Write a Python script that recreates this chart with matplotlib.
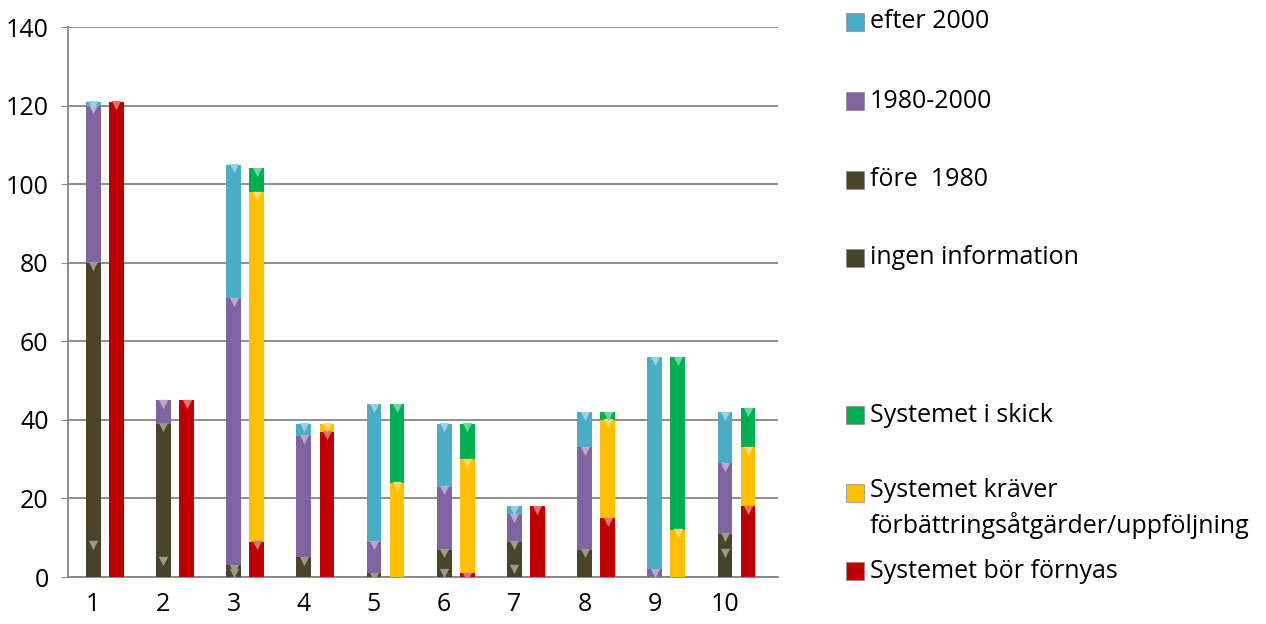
import matplotlib.pyplot as plt
import matplotlib.colors as mcolors
from matplotlib.patches import Rectangle
import numpy as np

plt.rcParams['font.family'] = ['Open Sans', 'DejaVu Sans']

categories = ['1', '2', '3', '4', '5', '6', '7', '8', '9', '10']

# left bar: age of the system
ingen_info = [9, 5, 2, 0, 0, 2, 3, 0, 0, 7]
fore_1980 = [71, 34, 1, 5, 1, 5, 6, 7, 0, 4]
y1980_2000 = [40, 6, 68, 31, 8, 16, 7, 26, 2, 18]
efter_2000 = [1, 0, 34, 3, 35, 16, 2, 9, 54, 13]

# right bar: condition of the system
bor_fornyas = [121, 45, 9, 37, 0, 1, 18, 15, 0, 18]
kraver = [0, 0, 89, 2, 24, 29, 0, 25, 12, 15]
i_skick = [0, 0, 6, 0, 20, 9, 0, 2, 44, 10]

left_series = [
    ('ingen information', ingen_info, '#46432a'),
    ('före  1980', fore_1980, '#4a4529'),
    ('1980-2000', y1980_2000, '#8064a2'),
    ('efter 2000', efter_2000, '#4bacc6'),
]
right_series = [
    ('Systemet bör förnyas', bor_fornyas, '#c00000'),
    ('Systemet kräver\nförbättringsåtgärder/uppföljning', kraver, '#ffc000'),
    ('Systemet i skick', i_skick, '#00b050'),
]

fig = plt.figure(figsize=(12.66, 6.24), dpi=100)
ax = fig.add_axes([0.0537, 0.0753, 0.561, 0.8814])

x = np.arange(1, len(categories) + 1)
width = 0.21
offset = 0.33


def lighten(c, amt=0.45):
    r, g, b = mcolors.to_rgb(c)
    return (r + (1 - r) * amt, g + (1 - g) * amt, b + (1 - b) * amt)


def stack(xpos, series):
    bottom = np.zeros(len(xpos))
    for name, vals, color in series:
        vals = np.array(vals, dtype=float)
        ax.bar(xpos, vals, width, bottom=bottom, color=color, linewidth=0, zorder=3)
        top = bottom + vals
        m = vals > 0
        ax.scatter(xpos[m], top[m] - 0.9, marker='v', s=45,
                   color=lighten(color), linewidths=0, zorder=4)
        bottom = top


stack(x, left_series)
stack(x + offset, right_series)

ax.set_xlim(0.64, 10.76)
ax.set_ylim(0, 140)
ax.set_yticks(range(0, 141, 20))
ax.set_xticks(x)
ax.set_xticklabels(categories)
ax.tick_params(axis='both', labelsize=18, colors='#868686', labelcolor='black')
ax.tick_params(axis='x', length=0, pad=11)
ax.tick_params(axis='y', length=5, pad=9)
ax.grid(axis='y', color='#868686', linewidth=1.3, zorder=0)
ax.set_axisbelow(True)
for s in ['top', 'right']:
    ax.spines[s].set_visible(False)
for s in ['left', 'bottom']:
    ax.spines[s].set_color('#868686')
    ax.spines[s].set_linewidth(1.3)

# legend, placed at the pixel rows of the original layout
W, H = 1266, 624
legend_items = [
    (left_series[3], 22),
    (left_series[2], 101),
    (left_series[1], 180),
    (left_series[0], 258),
    (right_series[2], 415),
    (right_series[1], 493),
    (right_series[0], 571),
]
for (name, vals, color), ypix in legend_items:
    fig.patches.append(Rectangle((846 / W, 1 - (ypix + 9) / H), 18 / W, 18 / H,
                                 transform=fig.transFigure, facecolor=color,
                                 edgecolor='#888888', linewidth=0.5))
    if '\n' in name:
        fig.text(870 / W, 1 - (ypix - 15) / H, name, fontsize=18, va='top',
                 ha='left', linespacing=1.45)
    else:
        fig.text(870 / W, 1 - ypix / H, name, fontsize=18, va='center', ha='left')

fig.savefig('out.png', dpi=100)
